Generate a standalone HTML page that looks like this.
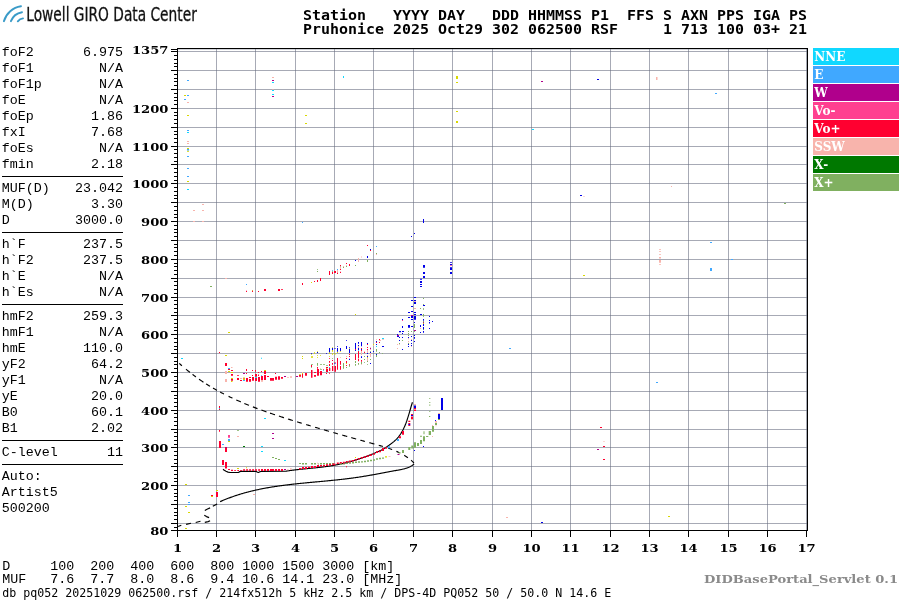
<!DOCTYPE html>
<html><head><meta charset="utf-8"><title>Ionogram</title>
<style>html,body{margin:0;padding:0;background:#fff;width:900px;height:600px;overflow:hidden}svg{display:block}</style>
</head><body>
<svg width="900" height="600" viewBox="0 0 900 600">
<rect width="900" height="600" fill="#fff"/>
<g stroke="#676d80" stroke-opacity="0.58" stroke-width="1" shape-rendering="crispEdges"><line x1="216.5" y1="49" x2="216.5" y2="530" /><line x1="255.5" y1="49" x2="255.5" y2="530" /><line x1="295.5" y1="49" x2="295.5" y2="530" /><line x1="334.5" y1="49" x2="334.5" y2="530" /><line x1="373.5" y1="49" x2="373.5" y2="530" /><line x1="413.5" y1="49" x2="413.5" y2="530" /><line x1="452.5" y1="49" x2="452.5" y2="530" /><line x1="492.5" y1="49" x2="492.5" y2="530" /><line x1="531.5" y1="49" x2="531.5" y2="530" /><line x1="570.5" y1="49" x2="570.5" y2="530" /><line x1="610.5" y1="49" x2="610.5" y2="530" /><line x1="649.5" y1="49" x2="649.5" y2="530" /><line x1="688.5" y1="49" x2="688.5" y2="530" /><line x1="728.5" y1="49" x2="728.5" y2="530" /><line x1="767.5" y1="49" x2="767.5" y2="530" /><line x1="806.5" y1="49" x2="806.5" y2="530" /><line x1="178" y1="523.5" x2="807" y2="523.5" /><line x1="178" y1="504.5" x2="807" y2="504.5" /><line x1="178" y1="485.5" x2="807" y2="485.5" /><line x1="178" y1="466.5" x2="807" y2="466.5" /><line x1="178" y1="447.5" x2="807" y2="447.5" /><line x1="178" y1="429.5" x2="807" y2="429.5" /><line x1="178" y1="410.5" x2="807" y2="410.5" /><line x1="178" y1="391.5" x2="807" y2="391.5" /><line x1="178" y1="372.5" x2="807" y2="372.5" /><line x1="178" y1="353.5" x2="807" y2="353.5" /><line x1="178" y1="334.5" x2="807" y2="334.5" /><line x1="178" y1="315.5" x2="807" y2="315.5" /><line x1="178" y1="297.5" x2="807" y2="297.5" /><line x1="178" y1="278.5" x2="807" y2="278.5" /><line x1="178" y1="259.5" x2="807" y2="259.5" /><line x1="178" y1="240.5" x2="807" y2="240.5" /><line x1="178" y1="221.5" x2="807" y2="221.5" /><line x1="178" y1="202.5" x2="807" y2="202.5" /><line x1="178" y1="183.5" x2="807" y2="183.5" /><line x1="178" y1="164.5" x2="807" y2="164.5" /><line x1="178" y1="146.5" x2="807" y2="146.5" /><line x1="178" y1="127.5" x2="807" y2="127.5" /><line x1="178" y1="108.5" x2="807" y2="108.5" /><line x1="178" y1="89.5" x2="807" y2="89.5" /><line x1="178" y1="70.5" x2="807" y2="70.5" /><line x1="178" y1="51.5" x2="807" y2="51.5" /><line x1="178" y1="49.5" x2="807" y2="49.5" stroke-opacity="0.3"/></g>
<path d="M179.23,363.39 L179.75,363.84 L180.26,364.30 L180.77,364.75 L181.29,365.20 L181.81,365.65 L181.94,365.77" fill="none" stroke="#000" stroke-width="1.15"/>
<path d="M186.00,369.21 L186.53,369.65 L187.06,370.08 L187.60,370.52 L188.13,370.95 L188.67,371.38 L189.20,371.81 L189.74,372.24 L189.94,372.40" fill="none" stroke="#000" stroke-width="1.15"/>
<path d="M192.52,374.41 L193.07,374.82 L193.62,375.24 L194.17,375.65 L194.72,376.07 L195.27,376.48 L195.83,376.88 L195.97,376.99" fill="none" stroke="#000" stroke-width="1.15"/>
<path d="M199.04,379.19 L199.61,379.58 L200.17,379.98 L200.74,380.37 L201.31,380.75 L201.88,381.14 L202.45,381.52 L203.02,381.90 L203.45,382.19" fill="none" stroke="#000" stroke-width="1.15"/>
<path d="M206.05,383.87 L206.63,384.23 L207.21,384.60 L207.79,384.96 L208.37,385.32 L208.96,385.68 L209.55,386.04 L209.99,386.31" fill="none" stroke="#000" stroke-width="1.15"/>
<path d="M213.02,388.10 L213.61,388.44 L214.21,388.78 L214.81,389.12 L215.40,389.46 L216.00,389.80 L216.60,390.13 L216.98,390.34" fill="none" stroke="#000" stroke-width="1.15"/>
<path d="M220.07,392.02 L220.68,392.34 L221.29,392.66 L221.90,392.98 L222.51,393.29 L223.12,393.61 L223.73,393.92 L223.96,394.04" fill="none" stroke="#000" stroke-width="1.15"/>
<path d="M228.57,396.33 L229.19,396.63 L229.81,396.93 L230.43,397.22 L231.05,397.52 L231.67,397.81 L232.29,398.10 L232.37,398.14" fill="none" stroke="#000" stroke-width="1.15"/>
<path d="M236.27,399.93 L236.90,400.21 L237.53,400.49 L238.15,400.77 L238.78,401.04 L239.41,401.32 L240.04,401.59 L240.67,401.86 L240.75,401.90" fill="none" stroke="#000" stroke-width="1.15"/>
<path d="M244.31,403.41 L244.94,403.67 L245.58,403.93 L246.21,404.20 L246.85,404.46 L247.49,404.72 L248.12,404.97 L248.76,405.23 L249.00,405.33" fill="none" stroke="#000" stroke-width="1.15"/>
<path d="M252.92,406.87 L253.56,407.12 L254.20,407.37 L254.84,407.61 L255.48,407.86 L256.13,408.10 L256.77,408.35 L257.41,408.59 L257.50,408.62" fill="none" stroke="#000" stroke-width="1.15"/>
<path d="M261.45,410.08 L262.10,410.32 L262.74,410.55 L263.39,410.78 L264.04,411.01 L264.69,411.25 L265.34,411.48 L265.98,411.71 L266.47,411.88" fill="none" stroke="#000" stroke-width="1.15"/>
<path d="M270.05,413.12 L270.70,413.35 L271.35,413.57 L272.00,413.79 L272.66,414.01 L273.31,414.23 L273.96,414.45 L274.62,414.67 L274.94,414.78" fill="none" stroke="#000" stroke-width="1.15"/>
<path d="M278.95,416.11 L279.60,416.32 L280.26,416.54 L280.92,416.75 L281.57,416.96 L282.23,417.17 L282.88,417.38 L283.54,417.59 L283.95,417.73" fill="none" stroke="#000" stroke-width="1.15"/>
<path d="M287.97,419.00 L288.63,419.21 L289.29,419.42 L289.95,419.62 L290.60,419.83 L291.26,420.03 L291.92,420.24 L292.58,420.44 L292.82,420.52" fill="none" stroke="#000" stroke-width="1.15"/>
<path d="M297.11,421.83 L297.76,422.04 L298.42,422.24 L299.08,422.44 L299.74,422.64 L300.40,422.84 L301.06,423.04 L301.72,423.24 L301.80,423.26" fill="none" stroke="#000" stroke-width="1.15"/>
<path d="M306.17,424.58 L306.82,424.78 L307.48,424.98 L308.14,425.17 L308.80,425.37 L309.46,425.57 L310.12,425.77 L310.70,425.94" fill="none" stroke="#000" stroke-width="1.15"/>
<path d="M315.06,427.23 L315.72,427.43 L316.38,427.62 L317.04,427.82 L317.70,428.01 L318.36,428.20 L319.02,428.40 L319.68,428.59 L319.68,428.59" fill="none" stroke="#000" stroke-width="1.15"/>
<path d="M323.97,429.84 L324.63,430.04 L325.29,430.23 L325.95,430.42 L326.60,430.61 L327.26,430.80 L327.92,430.99 L328.58,431.18 L329.00,431.30" fill="none" stroke="#000" stroke-width="1.15"/>
<path d="M333.36,432.56 L334.02,432.75 L334.68,432.94 L335.34,433.13 L336.00,433.32 L336.66,433.50 L337.32,433.69 L337.90,433.86" fill="none" stroke="#000" stroke-width="1.15"/>
<path d="M342.27,435.10 L342.93,435.29 L343.59,435.47 L344.25,435.66 L344.91,435.85 L345.57,436.03 L346.23,436.22 L346.89,436.41 L347.22,436.50" fill="none" stroke="#000" stroke-width="1.15"/>
<path d="M351.27,437.64 L351.93,437.82 L352.59,438.01 L353.25,438.19 L353.91,438.38 L354.58,438.56 L355.24,438.75 L355.90,438.93 L356.15,439.00" fill="none" stroke="#000" stroke-width="1.15"/>
<path d="M360.38,440.18 L361.04,440.36 L361.71,440.55 L362.37,440.73 L363.04,440.91 L363.70,441.10 L364.37,441.28 L364.95,441.44" fill="none" stroke="#000" stroke-width="1.15"/>
<path d="M369.37,442.66 L370.04,442.84 L370.71,443.03 L371.38,443.21 L372.05,443.39 L372.72,443.58 L373.39,443.76 L374.06,443.94 L374.47,444.06" fill="none" stroke="#000" stroke-width="1.15"/>
<path d="M378.74,445.25 L379.41,445.44 L380.08,445.63 L380.75,445.83 L381.41,446.02 L382.08,446.22 L382.74,446.42 L382.83,446.44" fill="none" stroke="#000" stroke-width="1.15"/>
<path d="M388.02,448.10 L388.67,448.32 L389.32,448.55 L389.97,448.78 L390.61,449.01 L391.26,449.25 L391.90,449.49 L392.14,449.58" fill="none" stroke="#000" stroke-width="1.15"/>
<path d="M396.40,451.33 L397.03,451.61 L397.64,451.89 L398.26,452.17 L398.87,452.47 L399.48,452.76 L399.63,452.84" fill="none" stroke="#000" stroke-width="1.15"/>
<path d="M404.23,455.36 L404.80,455.71 L405.37,456.07 L405.94,456.43 L406.51,456.81 L407.07,457.19 L407.62,457.57 L407.90,457.77" fill="none" stroke="#000" stroke-width="1.15"/>
<path d="M411.05,460.22 L411.57,460.67 L412.08,461.12 L412.59,461.58 L413.09,462.05 L413.59,462.53 L413.96,462.90" fill="none" stroke="#000" stroke-width="1.15"/>
<path d="M414.08,463.84 L413.62,464.27 L413.15,464.68 L412.66,465.06 L412.16,465.43 L411.65,465.77 L411.12,466.10 L410.58,466.41 L410.03,466.70 L409.47,466.97 L408.90,467.23 L408.32,467.47 L407.73,467.70 L407.13,467.92 L406.53,468.13 L405.91,468.32 L405.30,468.50 L404.67,468.68 L404.04,468.85 L403.41,469.00 L402.77,469.16 L402.13,469.30 L401.48,469.44 L400.83,469.58 L400.18,469.71 L399.52,469.83 L398.87,469.96 L398.21,470.08 L397.55,470.20 L396.89,470.32 L396.23,470.44 L395.57,470.56 L394.92,470.68 L394.26,470.81 L393.60,470.93 L392.94,471.05 L392.28,471.17 L391.63,471.30 L390.97,471.42 L390.31,471.54 L389.66,471.67 L389.00,471.79 L388.34,471.91 L387.69,472.03 L387.03,472.16 L386.38,472.28 L385.72,472.40 L385.06,472.53 L384.41,472.65 L383.75,472.77 L383.10,472.90 L382.44,473.02 L381.79,473.14 L381.13,473.27 L380.47,473.39 L379.82,473.51 L379.16,473.63 L378.51,473.75 L377.85,473.87 L377.20,473.99 L376.54,474.11 L375.89,474.23 L375.23,474.35 L374.58,474.47 L373.92,474.59 L373.27,474.71 L372.61,474.83 L371.95,474.94 L371.30,475.06 L370.64,475.18 L369.99,475.29 L369.33,475.40 L368.67,475.52 L368.02,475.63 L367.36,475.74 L366.71,475.86 L366.05,475.97 L365.39,476.08 L364.74,476.18 L364.08,476.29 L363.42,476.40 L362.76,476.51 L362.11,476.61 L361.45,476.72 L360.79,476.82 L360.13,476.92 L359.47,477.02 L358.82,477.13 L358.16,477.22 L357.50,477.32 L356.84,477.42 L356.18,477.52 L355.52,477.61 L354.86,477.70 L354.20,477.80 L353.54,477.89 L352.88,477.98 L352.22,478.07 L351.56,478.16 L350.89,478.24 L350.23,478.33 L349.57,478.42 L348.91,478.50 L348.25,478.58 L347.58,478.67 L346.92,478.75 L346.26,478.83 L345.60,478.91 L344.93,478.99 L344.27,479.07 L343.61,479.15 L342.94,479.22 L342.28,479.30 L341.61,479.37 L340.95,479.45 L340.29,479.52 L339.62,479.60 L338.96,479.67 L338.29,479.74 L337.63,479.81 L336.96,479.88 L336.30,479.95 L335.63,480.02 L334.97,480.09 L334.30,480.16 L333.63,480.23 L332.97,480.30 L332.30,480.36 L331.64,480.43 L330.97,480.50 L330.31,480.56 L329.64,480.63 L328.97,480.69 L328.31,480.76 L327.64,480.82 L326.97,480.88 L326.31,480.95 L325.64,481.01 L324.97,481.08 L324.31,481.14 L323.64,481.20 L322.97,481.26 L322.31,481.33 L321.64,481.39 L320.97,481.45 L320.31,481.51 L319.64,481.57 L318.97,481.64 L318.31,481.70 L317.64,481.76 L316.97,481.82 L316.31,481.88 L315.64,481.94 L314.97,482.01 L314.30,482.07 L313.64,482.13 L312.97,482.19 L312.30,482.25 L311.64,482.32 L310.97,482.38 L310.30,482.44 L309.64,482.50 L308.97,482.57 L308.31,482.63 L307.64,482.69 L306.97,482.76 L306.31,482.82 L305.64,482.89 L304.97,482.95 L304.31,483.02 L303.64,483.08 L302.98,483.15 L302.31,483.21 L301.64,483.28 L300.98,483.35 L300.31,483.41 L299.65,483.48 L298.98,483.55 L298.32,483.62 L297.65,483.69 L296.99,483.76 L296.32,483.83 L295.66,483.90 L295.00,483.97 L294.33,484.05 L293.67,484.12 L293.00,484.19 L292.34,484.27 L291.68,484.34 L291.01,484.42 L290.35,484.49 L289.69,484.57 L289.02,484.65 L288.36,484.73 L287.70,484.81 L287.04,484.89 L286.38,484.97 L285.71,485.05 L285.05,485.14 L284.39,485.22 L283.73,485.31 L283.07,485.39 L282.41,485.48 L281.75,485.57 L281.09,485.66 L280.43,485.75 L279.77,485.84 L279.11,485.93 L278.45,486.03 L277.79,486.12 L277.13,486.22 L276.47,486.31 L275.82,486.41 L275.16,486.51 L274.50,486.61 L273.84,486.71 L273.19,486.82 L272.53,486.92 L271.87,487.03 L271.22,487.14 L270.56,487.24 L269.91,487.35 L269.25,487.46 L268.60,487.58 L267.94,487.69 L267.29,487.81 L266.63,487.92 L265.98,488.04 L265.33,488.16 L264.67,488.28 L264.02,488.40 L263.37,488.53 L262.72,488.65 L262.07,488.78 L261.42,488.91 L260.77,489.04 L260.12,489.17 L259.47,489.31 L258.82,489.44 L258.17,489.58 L257.52,489.72 L256.87,489.86 L256.22,490.00 L255.58,490.15 L254.93,490.29 L254.28,490.44 L253.64,490.59 L252.99,490.74 L252.34,490.90 L251.70,491.05 L251.06,491.21 L250.41,491.37 L249.77,491.53 L249.13,491.69 L248.48,491.86 L247.84,492.03 L247.20,492.20 L246.56,492.37 L245.92,492.54 L245.28,492.72 L244.64,492.89 L244.00,493.07 L243.36,493.25 L242.72,493.44 L242.08,493.63 L241.45,493.81 L240.81,494.00 L240.17,494.20 L239.54,494.39 L238.90,494.59 L238.27,494.79 L237.63,494.99 L237.00,495.20 L236.37,495.40 L235.74,495.61 L235.10,495.82 L234.47,496.04 L233.84,496.25 L233.21,496.47 L232.58,496.69 L231.95,496.92 L231.32,497.14 L230.70,497.37 L230.07,497.60 L229.44,497.84 L228.82,498.07 L228.19,498.31 L227.57,498.55 L226.94,498.80 L226.32,499.05 L225.70,499.30 L225.07,499.55 L224.45,499.80 L223.83,500.06 L223.21,500.32 L222.59,500.59 L221.97,500.85 L221.35,501.12 L220.73,501.39 L220.12,501.67" fill="none" stroke="#000" stroke-width="1.15"/>
<path d="M178.10,526.50 L181.30,525.20" fill="none" stroke="#000" stroke-width="1.15" stroke-linecap="butt" stroke-linejoin="round"/>
<path d="M186.10,524.40 L191.00,523.20" fill="none" stroke="#000" stroke-width="1.15" stroke-linecap="butt" stroke-linejoin="round"/>
<path d="M195.70,522.50 L200.50,521.20" fill="none" stroke="#000" stroke-width="1.15" stroke-linecap="butt" stroke-linejoin="round"/>
<path d="M204.80,522.40 L208.20,521.60 L210.10,520.80" fill="none" stroke="#000" stroke-width="1.15" stroke-linecap="butt" stroke-linejoin="round"/>
<path d="M209.10,517.60 L206.50,516.60 L204.30,515.20" fill="none" stroke="#000" stroke-width="1.15" stroke-linecap="butt" stroke-linejoin="round"/>
<path d="M204.80,510.60 L207.50,509.00 L210.10,507.90" fill="none" stroke="#000" stroke-width="1.15" stroke-linecap="butt" stroke-linejoin="round"/>
<path d="M212.80,506.30 L217.10,503.90" fill="none" stroke="#000" stroke-width="1.15" stroke-linecap="butt" stroke-linejoin="round"/>
<path d="M223.00,469.20 L224.30,470.30 L226.00,471.30 L228.00,472.10 L230.00,472.50 L238.30,472.50 L239.30,471.90 L240.50,471.40 L256.30,471.40 L257.50,472.20 L258.50,472.50 L259.80,471.80 L261.50,471.40 L286.00,471.30 L286.54,471.08 L287.06,471.00 L287.58,470.92 L288.10,470.84 L288.63,470.77 L289.15,470.69 L289.67,470.62 L290.20,470.54 L290.72,470.47 L291.24,470.40 L291.77,470.33 L292.29,470.26 L292.82,470.19 L293.34,470.13 L293.86,470.06 L294.39,470.00 L294.91,469.94 L295.44,469.87 L295.96,469.81 L296.48,469.75 L297.01,469.69 L297.53,469.63 L298.06,469.57 L298.58,469.52 L299.11,469.46 L299.63,469.40 L300.16,469.35 L300.68,469.29 L301.20,469.24 L301.73,469.18 L302.25,469.13 L302.78,469.07 L303.30,469.02 L303.83,468.97 L304.35,468.91 L304.88,468.86 L305.40,468.81 L305.93,468.76 L306.45,468.71 L306.98,468.66 L307.50,468.60 L308.03,468.55 L308.55,468.50 L309.07,468.45 L309.60,468.40 L310.12,468.35 L310.65,468.30 L311.17,468.24 L311.70,468.19 L312.22,468.14 L312.75,468.09 L313.27,468.04 L313.79,467.98 L314.32,467.93 L314.84,467.88 L315.37,467.82 L315.89,467.77 L316.41,467.71 L316.94,467.66 L317.46,467.60 L317.98,467.54 L318.51,467.49 L319.03,467.43 L319.55,467.37 L320.08,467.31 L320.60,467.25 L321.12,467.19 L321.65,467.13 L322.17,467.06 L322.69,467.00 L323.21,466.94 L323.73,466.87 L324.26,466.80 L324.78,466.74 L325.30,466.67 L325.82,466.60 L326.34,466.53 L326.87,466.46 L327.39,466.38 L327.91,466.31 L328.43,466.23 L328.95,466.15 L329.47,466.08 L329.99,466.00 L330.51,465.91 L331.03,465.83 L331.55,465.75 L332.07,465.66 L332.59,465.57 L333.11,465.48 L333.63,465.39 L334.15,465.30 L334.67,465.21 L335.18,465.11 L335.70,465.01 L336.22,464.91 L336.74,464.81 L337.26,464.71 L337.77,464.61 L338.29,464.50 L338.81,464.39 L339.32,464.28 L339.84,464.17 L340.36,464.06 L340.87,463.95 L341.39,463.83 L341.90,463.72 L342.42,463.60 L342.93,463.48 L343.45,463.35 L343.96,463.23 L344.48,463.11 L344.99,462.98 L345.50,462.85 L346.01,462.72 L346.53,462.59 L347.04,462.46 L347.55,462.33 L348.06,462.19 L348.57,462.05 L349.08,461.92 L349.59,461.78 L350.10,461.63 L350.61,461.49 L351.12,461.35 L351.63,461.20 L352.14,461.06 L352.65,460.91 L353.16,460.76 L353.66,460.61 L354.17,460.46 L354.68,460.30 L355.18,460.15 L355.69,459.99 L356.19,459.83 L356.70,459.67 L357.20,459.51 L357.70,459.35 L358.21,459.19 L358.71,459.03 L359.21,458.86 L359.71,458.70 L360.21,458.53 L360.71,458.36 L361.21,458.19 L361.71,458.02 L362.21,457.85 L362.71,457.67 L363.21,457.50 L363.71,457.32 L364.20,457.14 L364.70,456.97 L365.19,456.79 L365.69,456.61 L366.18,456.42 L366.68,456.24 L367.17,456.06 L367.66,455.87 L368.16,455.69 L368.65,455.50 L369.14,455.31 L369.63,455.12 L370.12,454.93 L370.61,454.74 L371.10,454.55 L371.58,454.36 L372.07,454.16 L372.56,453.97 L373.04,453.77 L373.53,453.57 L374.01,453.37 L374.50,453.18 L374.98,452.97 L375.46,452.77 L375.94,452.57 L376.42,452.36 L376.90,452.15 L377.38,451.94 L377.85,451.73 L378.33,451.51 L378.80,451.30 L379.28,451.07 L379.75,450.85 L380.22,450.62 L380.68,450.39 L381.15,450.15 L381.61,449.91 L382.07,449.67 L382.53,449.42 L382.99,449.17 L383.45,448.91 L383.90,448.65 L384.35,448.38 L384.80,448.10 L385.25,447.83 L385.69,447.54 L386.14,447.25 L386.58,446.96 L387.02,446.67 L387.46,446.37 L387.89,446.07 L388.33,445.77 L388.77,445.46 L389.20,445.15 L389.64,444.84 L390.07,444.53 L390.50,444.22 L390.93,443.90 L391.36,443.58 L391.78,443.25 L392.20,442.92 L392.62,442.59 L393.03,442.26 L393.44,441.92 L393.85,441.58 L394.25,441.23 L394.64,440.88 L395.03,440.52 L395.42,440.16 L395.80,439.80 L396.17,439.43 L396.53,439.06 L396.89,438.68 L397.25,438.30 L397.59,437.91 L397.93,437.52 L398.27,437.12 L398.59,436.72 L398.92,436.31 L399.23,435.90 L399.54,435.48 L399.84,435.06 L400.14,434.64 L400.43,434.21 L400.72,433.78 L401.00,433.34 L401.27,432.90 L401.54,432.46 L401.81,432.01 L402.07,431.56 L402.32,431.11 L402.57,430.65 L402.82,430.19 L403.06,429.73 L403.29,429.26 L403.53,428.79 L403.75,428.32 L403.98,427.84 L404.20,427.37 L404.41,426.89 L404.62,426.40 L404.83,425.92 L405.04,425.43 L405.24,424.94 L405.43,424.45 L405.63,423.96 L405.82,423.46 L406.01,422.97 L406.19,422.47 L406.38,421.97 L406.56,421.47 L406.73,420.96 L406.91,420.46 L407.08,419.95 L407.25,419.45 L407.42,418.94 L407.58,418.43 L407.75,417.92 L407.91,417.41 L408.07,416.90 L408.23,416.39 L408.38,415.88 L408.54,415.37 L408.69,414.86 L408.85,414.35 L409.00,413.83 L409.15,413.32 L409.30,412.81 L409.45,412.30 L409.60,411.79 L409.75,411.28 L409.89,410.77 L410.04,410.26 L410.19,409.75 L410.34,409.24 L410.48,408.73 L410.63,408.23 L410.78,407.72 L410.92,407.22 L411.07,406.71 L411.22,406.21 L411.37,405.71 L411.52,405.21 L411.67,404.72 L411.83,404.22 L411.98,403.73 L412.13,403.24 L412.29,402.75 L412.45,402.26" fill="none" stroke="#000" stroke-width="1.15" stroke-linejoin="round"/>
<path fill="#80b060" d="M272 457h2v1h-2zM275 458h2v1h-2zM278 459h2v1h-2zM299 463h2v1h-2zM302 463h2v1.5h-2zM305 463h2v1.5h-2zM311 463h2v1.5h-2zM314 463h2v1.5h-2zM318 463.6h1v1h-1zM320 463h2v1.4h-2zM323 463h2v1.4h-2zM326 463h2v1.4h-2zM329 463h2v1.4h-2zM332 463h2v1.4h-2zM340 463.3h2v1.4h-2zM343 463.2h2v1.4h-2zM346 462.6h2v1.4h-2zM349 462.3h2v1.4h-2zM352 462h2v1.4h-2zM355 461.6h2v1.4h-2zM358 461.3h2v1.4h-2zM361 461.2h2v1.4h-2zM364 460.8h2v1.4h-2zM367 460.3h2v1.4h-2zM370 459.8h2v1.4h-2zM373 459.3h2v1.4h-2zM376 458.3h2v1.4h-2zM379 457.8h2v1.4h-2zM382 457.4h2v1.4h-2zM398.6 452.2h2v1.4h-2zM402 450h2v3h-2zM408.3 447h2v3h-2zM411.3 445.5h2v3h-2zM414 442.3h2v5.4h-2zM417 443h2v3h-2zM420 440h2v4h-2zM420 435.7h2v1h-2zM423 436.3h2v5h-2zM423.5 431.3h1v3h-1zM426.3 436h2v1h-2zM428.7 431h2v4h-2zM429.3 398h1v1h-1zM429.3 402h1v1h-1zM429.3 404.5h1v1.2h-1zM429.3 411h1v1h-1zM429.3 416h1v1h-1zM438 419h2v1h-2zM429 416h1v1h-1zM435 423h2v2h-2zM432 426h2v5.7h-2zM429 431h2v3.7h-2zM426 436h2v0.8h-2zM311 364h2v0.7h-2zM311 367.3h1v0.7h-1zM317 363h1v2.7h-1zM320 364h2v0.7h-2zM320 369h2v0.7h-2zM323 364h2v0.7h-2zM326 365h2v0.7h-2zM326 365h1v0.7h-1zM332 358h1v0.7h-1zM337 368h1v0.7h-1zM343 363h1v5.7h-1zM346 367h1v1h-1zM349 365h1v1.7h-1zM355 361h1v2h-1zM355 364h1v1.7h-1zM358 363h1v1.7h-1zM361 362h1v2h-1zM364 356h1v1h-1zM364 359h1v1h-1zM364 362h1v0.7h-1zM367 361h1v1h-1zM367 364h1v0.7h-1zM370 351h1v0.7h-1zM370 359h1v1h-1zM376 349h1v2.7h-1zM376 353h1v0.7h-1zM376 355h1v2h-1zM379 352h1v1h-1zM382 353h1v0.7h-1zM423 298h1v1h-1zM423 304h1v1h-1zM420 308h1v1h-1zM423 308.3h1v1.5h-1zM423 314h1v2.7h-1zM423 321h1v1h-1zM414 324h1v4h-1zM423 329h1v1h-1zM414 331h1v1h-1zM408 331h1v1h-1zM411 331h1v1h-1zM408 333h1v1h-1zM408 335h1v1h-1zM402 340h1v1h-1zM399 343h1v1h-1zM408 343h1v1h-1zM317 269h1v0.7h-1zM317 271h1v1h-1zM332 271h1v0.7h-1zM340 266h1v0.7h-1zM343 267h1v1h-1zM346 266h1v1h-1zM355 265h1v1h-1zM367 260h1v2h-1zM376 253h1v1h-1zM210 286h2v1h-2zM784 203h2v1h-2zM237 430h2v0.7h-2z"/>
<path fill="#007800" d="M243 446h2v1h-2z"/>
<path fill="#f8b4ac" d="M287 469.3h1.7v1h-1.7zM290 468.3h1.7v1.4h-1.7zM317 462.8h1v1h-1zM388.5 456.2h2v0.8h-2zM414 404h2v1.5h-2zM414 409h2v0.7h-2zM411 419h2v1h-2zM438 413h2v1h-2zM435 421h2v1.7h-2zM435.5 425.3h1v1h-1zM432 425h1v1h-1zM432 436h1v1h-1zM225 371h2v3h-2zM225 379h2v3h-2zM231 367h1.5v1h-1.5zM240 378h2v1h-2zM261 380h2v1.7h-2zM287 377h2v0.7h-2zM290 376.3h2v1.4h-2zM302 372h1v1h-1zM320 368h1v0.7h-1zM340 357h1v0.7h-1zM346 356h1v1h-1zM358 346h1v2h-1zM358 358h1v1h-1zM361 351h1v4h-1zM361 364h1v0.7h-1zM364 351.3h1v0.7h-1zM367 350h1v3h-1zM367 355h1v1h-1zM367 358h1v3h-1zM370 347h1v0.7h-1zM370 349h1v1h-1zM370 353h1v4h-1zM373 345h1v0.7h-1zM376 339h1v0.7h-1zM379 340h1v1h-1zM382 339h2v0.7h-2zM414 301h2v1h-2zM414 308h2v1h-2zM420 328h1v1h-1zM408 338.3h1v1h-1zM380 340h1v1h-1zM408 341h1v1.3h-1zM411 339h1v1h-1zM399 344.3h1v0.7h-1zM397 344h1v1h-1zM411 346.3h1v0.7h-1zM397 348h1v1h-1zM337 270h1v2.7h-1zM340 266.7h1v2h-1zM343 266h1v1h-1zM346 265.3h1v0.7h-1zM358 258h1v4h-1zM361 256.5h1v1h-1zM376 254h1v1h-1zM193 210h2v1h-2zM202 204h2v1h-2zM202 210h2v1h-2zM193 221h2v1h-2zM202 221h2v1h-2zM225 278h2v1h-2zM187 102h2v1h-2zM187 141h2v1h-2zM187 143h2v1h-2zM272 77h2v1h-2zM272 89h2v0.5h-2zM656 77h1.5v3h-1.5zM671 186h1v1h-1zM583.5 196h1v1h-1zM659 249h2v0.8h-2zM659 251h2v0.8h-2zM659 254h2v0.8h-2zM659 257h2v1.5h-2zM659 260h2v2.7h-2zM659 264h2v0.8h-2zM237 436h2v0.9h-2zM253 494h2v1h-2zM603.5 441h1v1h-1zM506 517h2v1h-2z"/>
<path fill="#d8d800" d="M237 468h2v1h-2zM246 467.2h1v1h-1zM228 441h2v1h-2zM355 457h1v1h-1zM385 456.3h2v1.3h-2zM225 355h2v1h-2zM228 371h2v1h-2zM231 372h2v1h-2zM231 378h2v1h-2zM231 381h1.5v1h-1.5zM243 377.5h2v1h-2zM243 379h2v1h-2zM264 370h2v1h-2zM299 374.3h2v0.7h-2zM302 373h1v1h-1zM302 356h1v1h-1zM302 358h1v1h-1zM311 354h1v0.7h-1zM311 356.3h2v1.4h-2zM311 372h1v0.7h-1zM314 352.3h1v1.4h-1zM317 351h1v0.7h-1zM317 355h1v0.7h-1zM317 357h1v0.7h-1zM320 355h1v0.7h-1zM326 368h1v0.7h-1zM329 352.3h1v1.4h-1zM329 356h1v0.7h-1zM332 347h1v0.7h-1zM332 350h1v1.7h-1zM332 353.3h1v1.4h-1zM334.5 353h1v1.7h-1zM337 352h1v1h-1zM340 351h1v0.7h-1zM346 363h1v1h-1zM349 348h1v0.7h-1zM367 357h1v1h-1zM373 344h1v1h-1zM423 323h1v1h-1zM311 282h1v1h-1zM252 290h1v0.7h-1zM355 314h1v1h-1zM228 332h2v1h-2zM184 95h2v1h-2zM187 115h2v1h-2zM187 148h2v1h-2zM187 150.7h2v1h-2zM187 181h2v1h-2zM305 115h2v1h-2zM305 123h2v1h-2zM456 76h2v3h-2zM456 82h2v1h-2zM456 111h2v1h-2zM456 121h2v2h-2zM583 275h2v1h-2zM185 484h2v1h-2zM185 506h2v1h-2zM188 512h2v1h-2zM185 528h2v1h-2zM211 496h2v1h-2zM216 490h2v1h-2zM668 516h2v1h-2z"/>
<path fill="#10d8ff" d="M261 446h2v1h-2zM261 451h2v1h-2zM284 460h2v1h-2zM255 377h2v1h-2zM261 357.7h1v1h-1zM323 370h1v0.7h-1zM329 367h1v1h-1zM358 350h1v0.7h-1zM376 346h1v1h-1zM382 338h2v1h-2zM187 132h2v1h-2zM187 189h2v1h-2zM272 82h2v1h-2zM272 90h2v1h-2zM272 94h2v1h-2zM343 76h1v2h-1zM532 129h2v1h-2zM219 408h1v1h-1zM264 418h2v1h-2zM181 358h2v1h-2z"/>
<path fill="#40a8ff" d="M222 444h2v1h-2zM228 440h2v1h-2zM388 446.3h2v2h-2zM397 439h2v2h-2zM228 368h2v1h-2zM243 380h2v1h-2zM261 375h1v0.7h-1zM332 270h1v0.7h-1zM337 269h1v1h-1zM376 246h1v1h-1zM246 284h1v1h-1zM302 222h1v1h-1zM187 80h2v1h-2zM187 95h2v1h-2zM184 99h2v1h-2zM187 130h2v1h-2zM187 149h2v1.5h-2zM187 156h2v1h-2zM187 168h2v1h-2zM187 176h2v1h-2zM715 93h2v1h-2zM710 242h2v1h-2zM731 259h2v1h-2zM710 268h2v3h-2zM228 439h2v1.5h-2zM188 495h2v1h-2zM188 502h2v1h-2zM188 504h2v1h-2zM509 348h2v1h-2zM656 382h2v1h-2z"/>
<path fill="#ff4090" d="M323 369h1v1h-1zM402 320h1v1h-1zM450 265.3h2v0.7h-2zM228 435h2v2.8h-2z"/>
<path fill="#b0008c" d="M225 447h2v1h-2zM284 469h2v1h-2zM397.5 454h2v1h-2zM243 373h2v1h-2zM284 376h2v1h-2zM296 376h2v1h-2zM370 348h1v1h-1zM411 315h2v1h-2zM423 322h1v1h-1zM414 330h2v1h-2zM397 335h2v1h-2zM272 80h2v1h-2zM272 96h2v1h-2zM541 81h2v1h-2zM272 433h2v0.9h-2zM272 438h2v0.9h-2zM597 449h2v1h-2z"/>
<path fill="#ff0030" d="M219 441h2v7h-2zM225 447.8h2v4.2h-2zM222 460h2v5h-2zM225 462h2v6.5h-2zM228 469h2v1h-2zM231 469.7h2v1.3h-2zM234.3 470h1.5v1h-1.5zM237.3 470h1.7v1h-1.7zM240.3 470h1.5v1h-1.5zM243.3 469h1.5v2h-1.5zM246.3 469h1.5v2h-1.5zM249.3 469h1.5v2h-1.5zM252.3 469h1.5v2h-1.5zM255.3 469h1.5v2h-1.5zM258.3 469h1.5v2h-1.5zM261 469h2v2h-2zM264 469h2v2h-2zM267 469h2v2h-2zM270 469h4v2h-4zM275 469h2v2h-2zM278 469h2v2h-2zM281 469h2v2h-2zM299 468h2v1.5h-2zM302 467h2v2h-2zM305 467h2v2h-2zM308 466.7h2v1.3h-2zM311 466h2v2h-2zM314 466h2v2h-2zM317 465h2v2h-2zM320 465h2v1.6h-2zM323 465h2v1.6h-2zM326 464.3h2v1.6h-2zM329 464h2v1.6h-2zM332.3 463.6h3v1.6h-3zM336.8 462.5h2v1.6h-2zM339.8 462h2v1.6h-2zM342.8 461.8h2v1.6h-2zM345.8 461h2v1.6h-2zM348.8 460.6h2v1.6h-2zM351.8 460h2v1.6h-2zM354.8 459h2v1.6h-2zM357.8 458h2v1.6h-2zM360.8 457h2v1.6h-2zM363.8 456.3h2v1.6h-2zM366.8 455.3h2v1.6h-2zM369.8 454.3h2v1.6h-2zM373 453.2h2v1.6h-2zM346 466.2h1v1h-1zM376 451.3h2v1.6h-2zM379 450.6h2v1.6h-2zM382 448h2v3h-2zM385 447.3h2v1.5h-2zM399 436.3h2v2h-2zM402 431h2v3.7h-2zM408.3 420.8h2v1.2h-2zM408.3 423h2v1h-2zM408.3 425h2v1h-2zM414 408h2v1h-2zM414 409.7h2v1.3h-2zM411 414h2v1h-2zM411 416.5h2v2.5h-2zM225 363h2v3h-2zM228 369h2v1h-2zM231 370h2v1h-2zM231 374h2v1.7h-2zM231 379h2v1.7h-2zM237 375h2v0.8h-2zM237 378h2v2h-2zM240 380h2v1h-2zM243 378.5h2v0.6h-2zM246 369h1v2h-1zM246 373h1v1h-1zM246 378h2v3.7h-2zM249 377h2v1h-2zM249 379h2v2.7h-2zM252 370h1v1h-1zM252 375h1v1h-1zM252 377h2v3.7h-2zM255 370h1v1.7h-1zM255 374h2v2.7h-2zM255 378h2v3h-2zM258 372h1v1h-1zM258 374.5h1v1.5h-1zM258 377h2v4.7h-2zM261 371h1v1h-1zM261 376h2v4h-2zM264 371h2v3h-2zM264 375h2v5h-2zM267 376h2v1h-2zM270 378h4v2.7h-4zM275 376.7h2v3h-2zM278 376.3h2v3.4h-2zM281 377h2v1.7h-2zM275 373h1v1h-1zM299 375h2v1.7h-2zM302 374h1v3.7h-1zM305 373h2v2.7h-2zM311 365h1v2h-1zM311 370h1.5v7.7h-1.5zM314 372h2v1h-2zM314 375h2v1.7h-2zM317 367h1v1.7h-1zM317 369h2v6.7h-2zM320 371h2v4.3h-2zM326 367h2v1h-2zM326 368.7h2v3.3h-2zM326 373h1v1h-1zM326 367h1v1h-1zM326 369h1.3v3h-1.3zM326 373h1v0.7h-1zM329 358h1v0.7h-1zM329 361h1v1.7h-1zM329 364h1v2h-1zM329 368h1.3v3h-1.3zM329 372.7h1v1h-1zM332 360h1v1h-1zM332 363h1v1.7h-1zM332 366h1.3v5h-1.3zM334.5 362h1v1h-1zM334.5 366h1.5v5.7h-1.5zM337 358h1v11.7h-1zM340 361h1v3.7h-1zM340 366h1v3.7h-1zM346 358h1v1h-1zM346 361h1v2h-1zM346 365h1v1h-1zM349 354h1v1h-1zM349 356h1v1h-1zM349 364h1v0.7h-1zM355 349h1v1h-1zM355 354h1v6h-1zM358 351h1v7h-1zM358 359h1v2.3h-1zM361 348h1v1h-1zM361 350h1v1h-1zM361 360h1v1.7h-1zM364 352h1v1h-1zM367 344h1v1h-1zM367 347h1v1h-1zM367 349h1v1h-1zM376 342h1v1h-1zM379 339h1v1h-1zM379 342h1v1h-1zM302 283h1v2h-1zM314 281h1v1h-1zM317 280h1v2h-1zM320 278h1v3h-1zM329 271h1v4h-1zM332 272h1v2h-1zM334 271h2v2h-2zM337 272.7h1v1.3h-1zM340 265h1v1h-1zM340 269h1v1h-1zM340 271.7h1v1.3h-1zM346 263h1v1h-1zM349 264h1v2h-1zM367 245h1v1h-1zM370 250h1v1h-1zM246 290.7h1v1.3h-1zM252 290.7h1v1.3h-1zM258 291h1v1h-1zM264 289h2v2h-2zM278 289h2v2h-2zM281 289h2v0.7h-2zM219 406h1v2h-1zM219 409h1v1h-1zM219 430h1v1.7h-1zM211 495h2v1h-2zM216 492h2v5h-2zM219 352h1v1h-1zM600 427h2v1h-2zM603 446h2v1h-2zM603 459h2v1h-2z"/>
<path fill="#0000e8" d="M408.3 424h2v1h-2zM414 450h1v1h-1zM423 446h1v1h-1zM414 405.5h2v2.5h-2zM411 415h2v1h-2zM441 398h2v12h-2zM438 414h2v5h-2zM435 420h1v1h-1zM311 353h1v0.7h-1zM317 352h1v1h-1zM326 353h1v0.7h-1zM326 353h1v0.7h-1zM329 348h1v4.3h-1zM332 348h1v2h-1zM334.5 348h1v1h-1zM334.5 363h1v1h-1zM337 346h1v0.7h-1zM337 348h1v3.7h-1zM340 348h1v3h-1zM346 340h1v0.7h-1zM346 346h1v3h-1zM349 347h1v0.7h-1zM349 349h1v4h-1zM349 358.7h1v1.3h-1zM355 343h1v6h-1zM355 350h1v1h-1zM358 342h1v1.7h-1zM358 345h1v1h-1zM358 348h1v2h-1zM361 342h1v4.3h-1zM361 349h1v1h-1zM361 356.3h1v1.7h-1zM367 343h1v1h-1zM367 353h1v1h-1zM367 356h1v1h-1zM370 352h1v1h-1zM370 363h1v1h-1zM373 351h1v1h-1zM376 341h1v1h-1zM376 344h1v1h-1zM376 354h1v1h-1zM382 346h2v1h-2zM414 297h2v1h-2zM411 300h2v1h-2zM414 300h2v1h-2zM414 302h2v2h-2zM411 306h2v1h-2zM423 305h2v1h-2zM411 311h2v1h-2zM408 312h2v1h-2zM414 312h2v1h-2zM414 314h2v1h-2zM420 314h2v1h-2zM411 316h2v2h-2zM408 317h2v1h-2zM414 316h2v3.7h-2zM429 316h1v1h-1zM402 319h1v1h-1zM411 319h2v1h-2zM423 319h1v1.7h-1zM429 320h1v1h-1zM432 321h1v1h-1zM414 322h1v1h-1zM429 322h1v1.5h-1zM408 325h2v2.7h-2zM411 326h2v1h-2zM420 325h1v2h-1zM402 326h1v2h-1zM423 324h1v2h-1zM423 327h1v2.3h-1zM429 328h1v1h-1zM399 331h2v1.3h-2zM402 331h2v1h-2zM420 332h1v1h-1zM423 331h1v1.7h-1zM402 333h1v1h-1zM397 334h1v1h-1zM397 336h2v1h-2zM414 335h1v1h-1zM399 337h1v1h-1zM402 337h1v1h-1zM408 337h1v1h-1zM411 336h1v1h-1zM414 337h1v1.7h-1zM399 340h1v1h-1zM411 340h1v1h-1zM414 341h1v1h-1zM408 344h1v1h-1zM411 343h1v1h-1zM411 345h1v1h-1zM408 346h1v1h-1zM402 349h1v1h-1zM423 265h2v2.7h-2zM423 272h2v2h-2zM423 276h2v2h-2zM420 278.7h2v1h-2zM420 281h2v2h-2zM420 284h2v1h-2zM420 286h2v1h-2zM450 262h2v0.7h-2zM450 264h2v1h-2zM450 267.3h2v2.7h-2zM450 272h2v2h-2zM423 219h1v4h-1zM414 233h1v1h-1zM411 236h1v1h-1zM355 260h1v1h-1zM367 256h1v2h-1zM370 249h1v1h-1zM597 79h2v1h-2zM580 195h2v1h-2zM541 522h2v1h-2z"/>
<g stroke="#000" stroke-width="1" shape-rendering="crispEdges"><line x1="177" y1="48.5" x2="808" y2="48.5"/><line x1="177" y1="530.5" x2="808" y2="530.5"/><line x1="177.5" y1="48" x2="177.5" y2="537"/><line x1="807.5" y1="48" x2="807.5" y2="531"/><line x1="174" y1="527.5" x2="177" y2="527.5"/><line x1="171" y1="523.5" x2="177" y2="523.5"/><line x1="174" y1="519.5" x2="177" y2="519.5"/><line x1="174" y1="515.5" x2="177" y2="515.5"/><line x1="174" y1="512.5" x2="177" y2="512.5"/><line x1="174" y1="508.5" x2="177" y2="508.5"/><line x1="171" y1="504.5" x2="177" y2="504.5"/><line x1="174" y1="500.5" x2="177" y2="500.5"/><line x1="174" y1="496.5" x2="177" y2="496.5"/><line x1="174" y1="493.5" x2="177" y2="493.5"/><line x1="174" y1="489.5" x2="177" y2="489.5"/><line x1="171" y1="485.5" x2="177" y2="485.5"/><line x1="174" y1="481.5" x2="177" y2="481.5"/><line x1="174" y1="478.5" x2="177" y2="478.5"/><line x1="174" y1="474.5" x2="177" y2="474.5"/><line x1="174" y1="470.5" x2="177" y2="470.5"/><line x1="171" y1="466.5" x2="177" y2="466.5"/><line x1="174" y1="463.5" x2="177" y2="463.5"/><line x1="174" y1="459.5" x2="177" y2="459.5"/><line x1="174" y1="455.5" x2="177" y2="455.5"/><line x1="174" y1="451.5" x2="177" y2="451.5"/><line x1="171" y1="447.5" x2="177" y2="447.5"/><line x1="174" y1="444.5" x2="177" y2="444.5"/><line x1="174" y1="440.5" x2="177" y2="440.5"/><line x1="174" y1="436.5" x2="177" y2="436.5"/><line x1="174" y1="432.5" x2="177" y2="432.5"/><line x1="171" y1="429.5" x2="177" y2="429.5"/><line x1="174" y1="425.5" x2="177" y2="425.5"/><line x1="174" y1="421.5" x2="177" y2="421.5"/><line x1="174" y1="417.5" x2="177" y2="417.5"/><line x1="174" y1="413.5" x2="177" y2="413.5"/><line x1="171" y1="410.5" x2="177" y2="410.5"/><line x1="174" y1="406.5" x2="177" y2="406.5"/><line x1="174" y1="402.5" x2="177" y2="402.5"/><line x1="174" y1="398.5" x2="177" y2="398.5"/><line x1="174" y1="395.5" x2="177" y2="395.5"/><line x1="171" y1="391.5" x2="177" y2="391.5"/><line x1="174" y1="387.5" x2="177" y2="387.5"/><line x1="174" y1="383.5" x2="177" y2="383.5"/><line x1="174" y1="380.5" x2="177" y2="380.5"/><line x1="174" y1="376.5" x2="177" y2="376.5"/><line x1="171" y1="372.5" x2="177" y2="372.5"/><line x1="174" y1="368.5" x2="177" y2="368.5"/><line x1="174" y1="364.5" x2="177" y2="364.5"/><line x1="174" y1="361.5" x2="177" y2="361.5"/><line x1="174" y1="357.5" x2="177" y2="357.5"/><line x1="171" y1="353.5" x2="177" y2="353.5"/><line x1="174" y1="349.5" x2="177" y2="349.5"/><line x1="174" y1="346.5" x2="177" y2="346.5"/><line x1="174" y1="342.5" x2="177" y2="342.5"/><line x1="174" y1="338.5" x2="177" y2="338.5"/><line x1="171" y1="334.5" x2="177" y2="334.5"/><line x1="174" y1="330.5" x2="177" y2="330.5"/><line x1="174" y1="327.5" x2="177" y2="327.5"/><line x1="174" y1="323.5" x2="177" y2="323.5"/><line x1="174" y1="319.5" x2="177" y2="319.5"/><line x1="171" y1="315.5" x2="177" y2="315.5"/><line x1="174" y1="312.5" x2="177" y2="312.5"/><line x1="174" y1="308.5" x2="177" y2="308.5"/><line x1="174" y1="304.5" x2="177" y2="304.5"/><line x1="174" y1="300.5" x2="177" y2="300.5"/><line x1="171" y1="297.5" x2="177" y2="297.5"/><line x1="174" y1="293.5" x2="177" y2="293.5"/><line x1="174" y1="289.5" x2="177" y2="289.5"/><line x1="174" y1="285.5" x2="177" y2="285.5"/><line x1="174" y1="281.5" x2="177" y2="281.5"/><line x1="171" y1="278.5" x2="177" y2="278.5"/><line x1="174" y1="274.5" x2="177" y2="274.5"/><line x1="174" y1="270.5" x2="177" y2="270.5"/><line x1="174" y1="266.5" x2="177" y2="266.5"/><line x1="174" y1="263.5" x2="177" y2="263.5"/><line x1="171" y1="259.5" x2="177" y2="259.5"/><line x1="174" y1="255.5" x2="177" y2="255.5"/><line x1="174" y1="251.5" x2="177" y2="251.5"/><line x1="174" y1="247.5" x2="177" y2="247.5"/><line x1="174" y1="244.5" x2="177" y2="244.5"/><line x1="171" y1="240.5" x2="177" y2="240.5"/><line x1="174" y1="236.5" x2="177" y2="236.5"/><line x1="174" y1="232.5" x2="177" y2="232.5"/><line x1="174" y1="229.5" x2="177" y2="229.5"/><line x1="174" y1="225.5" x2="177" y2="225.5"/><line x1="171" y1="221.5" x2="177" y2="221.5"/><line x1="174" y1="217.5" x2="177" y2="217.5"/><line x1="174" y1="214.5" x2="177" y2="214.5"/><line x1="174" y1="210.5" x2="177" y2="210.5"/><line x1="174" y1="206.5" x2="177" y2="206.5"/><line x1="171" y1="202.5" x2="177" y2="202.5"/><line x1="174" y1="198.5" x2="177" y2="198.5"/><line x1="174" y1="195.5" x2="177" y2="195.5"/><line x1="174" y1="191.5" x2="177" y2="191.5"/><line x1="174" y1="187.5" x2="177" y2="187.5"/><line x1="171" y1="183.5" x2="177" y2="183.5"/><line x1="174" y1="180.5" x2="177" y2="180.5"/><line x1="174" y1="176.5" x2="177" y2="176.5"/><line x1="174" y1="172.5" x2="177" y2="172.5"/><line x1="174" y1="168.5" x2="177" y2="168.5"/><line x1="171" y1="164.5" x2="177" y2="164.5"/><line x1="174" y1="161.5" x2="177" y2="161.5"/><line x1="174" y1="157.5" x2="177" y2="157.5"/><line x1="174" y1="153.5" x2="177" y2="153.5"/><line x1="174" y1="149.5" x2="177" y2="149.5"/><line x1="171" y1="146.5" x2="177" y2="146.5"/><line x1="174" y1="142.5" x2="177" y2="142.5"/><line x1="174" y1="138.5" x2="177" y2="138.5"/><line x1="174" y1="134.5" x2="177" y2="134.5"/><line x1="174" y1="131.5" x2="177" y2="131.5"/><line x1="171" y1="127.5" x2="177" y2="127.5"/><line x1="174" y1="123.5" x2="177" y2="123.5"/><line x1="174" y1="119.5" x2="177" y2="119.5"/><line x1="174" y1="115.5" x2="177" y2="115.5"/><line x1="174" y1="112.5" x2="177" y2="112.5"/><line x1="171" y1="108.5" x2="177" y2="108.5"/><line x1="174" y1="104.5" x2="177" y2="104.5"/><line x1="174" y1="100.5" x2="177" y2="100.5"/><line x1="174" y1="97.5" x2="177" y2="97.5"/><line x1="174" y1="93.5" x2="177" y2="93.5"/><line x1="171" y1="89.5" x2="177" y2="89.5"/><line x1="174" y1="85.5" x2="177" y2="85.5"/><line x1="174" y1="81.5" x2="177" y2="81.5"/><line x1="174" y1="78.5" x2="177" y2="78.5"/><line x1="174" y1="74.5" x2="177" y2="74.5"/><line x1="171" y1="70.5" x2="177" y2="70.5"/><line x1="174" y1="66.5" x2="177" y2="66.5"/><line x1="174" y1="63.5" x2="177" y2="63.5"/><line x1="174" y1="59.5" x2="177" y2="59.5"/><line x1="174" y1="55.5" x2="177" y2="55.5"/><line x1="171" y1="51.5" x2="177" y2="51.5"/><line x1="171" y1="49.5" x2="177" y2="49.5"/><line x1="171" y1="530.5" x2="177" y2="530.5"/><line x1="216.5" y1="531" x2="216.5" y2="537"/><line x1="255.5" y1="531" x2="255.5" y2="537"/><line x1="295.5" y1="531" x2="295.5" y2="537"/><line x1="334.5" y1="531" x2="334.5" y2="537"/><line x1="373.5" y1="531" x2="373.5" y2="537"/><line x1="413.5" y1="531" x2="413.5" y2="537"/><line x1="452.5" y1="531" x2="452.5" y2="537"/><line x1="492.5" y1="531" x2="492.5" y2="537"/><line x1="531.5" y1="531" x2="531.5" y2="537"/><line x1="570.5" y1="531" x2="570.5" y2="537"/><line x1="610.5" y1="531" x2="610.5" y2="537"/><line x1="649.5" y1="531" x2="649.5" y2="537"/><line x1="688.5" y1="531" x2="688.5" y2="537"/><line x1="728.5" y1="531" x2="728.5" y2="537"/><line x1="767.5" y1="531" x2="767.5" y2="537"/><line x1="806.5" y1="531" x2="806.5" y2="537"/></g>
<g font-family="'DejaVu Serif','Liberation Serif',serif" font-weight="bold" font-size="11.7" fill="#000"><text transform="translate(168.4,54.0) scale(1.12,1)" text-anchor="end">1357</text><text transform="translate(168.4,113.0) scale(1.12,1)" text-anchor="end">1200</text><text transform="translate(168.4,151.0) scale(1.12,1)" text-anchor="end">1100</text><text transform="translate(168.4,188.0) scale(1.12,1)" text-anchor="end">1000</text><text transform="translate(168.4,226.0) scale(1.12,1)" text-anchor="end">900</text><text transform="translate(168.4,264.0) scale(1.12,1)" text-anchor="end">800</text><text transform="translate(168.4,302.0) scale(1.12,1)" text-anchor="end">700</text><text transform="translate(168.4,339.0) scale(1.12,1)" text-anchor="end">600</text><text transform="translate(168.4,377.0) scale(1.12,1)" text-anchor="end">500</text><text transform="translate(168.4,415.0) scale(1.12,1)" text-anchor="end">400</text><text transform="translate(168.4,452.0) scale(1.12,1)" text-anchor="end">300</text><text transform="translate(168.4,490.0) scale(1.12,1)" text-anchor="end">200</text><text transform="translate(168.4,535.0) scale(1.12,1)" text-anchor="end">80</text><text transform="translate(177.5,552) scale(1.12,1)" text-anchor="middle">1</text><text transform="translate(216.5,552) scale(1.12,1)" text-anchor="middle">2</text><text transform="translate(255.5,552) scale(1.12,1)" text-anchor="middle">3</text><text transform="translate(295.5,552) scale(1.12,1)" text-anchor="middle">4</text><text transform="translate(334.5,552) scale(1.12,1)" text-anchor="middle">5</text><text transform="translate(373.5,552) scale(1.12,1)" text-anchor="middle">6</text><text transform="translate(413.5,552) scale(1.12,1)" text-anchor="middle">7</text><text transform="translate(452.5,552) scale(1.12,1)" text-anchor="middle">8</text><text transform="translate(492.5,552) scale(1.12,1)" text-anchor="middle">9</text><text transform="translate(531.5,552) scale(1.12,1)" text-anchor="middle">10</text><text transform="translate(570.5,552) scale(1.12,1)" text-anchor="middle">11</text><text transform="translate(610.5,552) scale(1.12,1)" text-anchor="middle">12</text><text transform="translate(649.5,552) scale(1.12,1)" text-anchor="middle">13</text><text transform="translate(688.5,552) scale(1.12,1)" text-anchor="middle">14</text><text transform="translate(728.5,552) scale(1.12,1)" text-anchor="middle">15</text><text transform="translate(767.5,552) scale(1.12,1)" text-anchor="middle">16</text><text transform="translate(806.5,552) scale(1.12,1)" text-anchor="middle">17</text></g>
<g font-family="'DejaVu Serif','Liberation Serif',serif" font-weight="bold" font-size="12" fill="#fff"><rect x="813" y="48" width="86" height="17" fill="#10d8ff"/><text x="814.3" y="61">NNE</text><rect x="813" y="66" width="86" height="17" fill="#40a8ff"/><text x="814.3" y="79">E</text><rect x="813" y="84" width="86" height="17" fill="#b0008c"/><text x="814.3" y="97">W</text><rect x="813" y="102" width="86" height="17" fill="#ff4090"/><text x="814.3" y="115">Vo-</text><rect x="813" y="120" width="86" height="17" fill="#ff0030"/><text x="814.3" y="133">Vo+</text><rect x="813" y="138" width="86" height="17" fill="#f8b4ac"/><text x="814.3" y="151">SSW</text><rect x="813" y="156" width="86" height="17" fill="#007800"/><text x="814.3" y="169">X-</text><rect x="813" y="174" width="86" height="17" fill="#80b060"/><text x="814.3" y="187">X+</text></g>
<g font-family="'Liberation Mono','DejaVu Sans Mono',monospace" font-size="13.33" fill="#000"><text x="1.8" y="56">foF2</text><text x="123" y="56" text-anchor="end">6.975</text><text x="1.8" y="72">foF1</text><text x="123" y="72" text-anchor="end">N/A</text><text x="1.8" y="88">foF1p</text><text x="123" y="88" text-anchor="end">N/A</text><text x="1.8" y="104">foE</text><text x="123" y="104" text-anchor="end">N/A</text><text x="1.8" y="120">foEp</text><text x="123" y="120" text-anchor="end">1.86</text><text x="1.8" y="136">fxI</text><text x="123" y="136" text-anchor="end">7.68</text><text x="1.8" y="152">foEs</text><text x="123" y="152" text-anchor="end">N/A</text><text x="1.8" y="168">fmin</text><text x="123" y="168" text-anchor="end">2.18</text><text x="1.8" y="192">MUF(D)</text><text x="123" y="192" text-anchor="end">23.042</text><text x="1.8" y="208">M(D)</text><text x="123" y="208" text-anchor="end">3.30</text><text x="1.8" y="224">D</text><text x="123" y="224" text-anchor="end">3000.0</text><text x="1.8" y="248">h`F</text><text x="123" y="248" text-anchor="end">237.5</text><text x="1.8" y="264">h`F2</text><text x="123" y="264" text-anchor="end">237.5</text><text x="1.8" y="280">h`E</text><text x="123" y="280" text-anchor="end">N/A</text><text x="1.8" y="296">h`Es</text><text x="123" y="296" text-anchor="end">N/A</text><text x="1.8" y="320">hmF2</text><text x="123" y="320" text-anchor="end">259.3</text><text x="1.8" y="336">hmF1</text><text x="123" y="336" text-anchor="end">N/A</text><text x="1.8" y="352">hmE</text><text x="123" y="352" text-anchor="end">110.0</text><text x="1.8" y="368">yF2</text><text x="123" y="368" text-anchor="end">64.2</text><text x="1.8" y="384">yF1</text><text x="123" y="384" text-anchor="end">N/A</text><text x="1.8" y="400">yE</text><text x="123" y="400" text-anchor="end">20.0</text><text x="1.8" y="416">B0</text><text x="123" y="416" text-anchor="end">60.1</text><text x="1.8" y="432">B1</text><text x="123" y="432" text-anchor="end">2.02</text><text x="1.8" y="456">C-level</text><text x="123" y="456" text-anchor="end">11</text><text x="1.8" y="480">Auto:</text><text x="1.8" y="496">Artist5</text><text x="1.8" y="512">500200</text></g>
<g stroke="#000" stroke-width="1.15"><line x1="2" y1="176.5" x2="123" y2="176.5"/><line x1="2" y1="232.5" x2="123" y2="232.5"/><line x1="2" y1="304.5" x2="123" y2="304.5"/><line x1="2" y1="440.5" x2="123" y2="440.5"/><line x1="2" y1="464.5" x2="123" y2="464.5"/></g>
<g font-family="'DejaVu Sans Mono','Liberation Mono',monospace" font-weight="bold" font-size="14.95" fill="#000"><text x="303.00" y="20">Station</text><text x="393.00" y="20">YYYY</text><text x="438.00" y="20">DAY</text><text x="492.00" y="20">DDD</text><text x="528.00" y="20">HHMMSS</text><text x="591.00" y="20">P1</text><text x="627.00" y="20">FFS</text><text x="663.00" y="20">S</text><text x="681.00" y="20">AXN</text><text x="717.00" y="20">PPS</text><text x="753.00" y="20">IGA</text><text x="789.00" y="20">PS</text><text x="303.00" y="34">Pruhonice</text><text x="393.00" y="34">2025</text><text x="438.00" y="34">Oct29</text><text x="492.00" y="34">302</text><text x="528.00" y="34">062500</text><text x="591.00" y="34">RSF</text><text x="663.00" y="34">1</text><text x="681.00" y="34">713</text><text x="717.00" y="34">100</text><text x="753.00" y="34">03+</text><text x="789.00" y="34">21</text></g>
<g font-family="'Liberation Mono','DejaVu Sans Mono',monospace" font-size="13.33" fill="#000"><text x="2.20" y="569.8">D</text><text x="50.20" y="569.8">100</text><text x="90.20" y="569.8">200</text><text x="130.20" y="569.8">400</text><text x="170.20" y="569.8">600</text><text x="210.20" y="569.8">800</text><text x="242.20" y="569.8">1000</text><text x="282.20" y="569.8">1500</text><text x="322.20" y="569.8">3000</text><text x="362.20" y="569.8">[km]</text><text x="2.20" y="582.8">MUF</text><text x="50.20" y="582.8">7.6</text><text x="90.20" y="582.8">7.7</text><text x="130.20" y="582.8">8.0</text><text x="170.20" y="582.8">8.6</text><text x="210.20" y="582.8">9.4</text><text x="242.20" y="582.8">10.6</text><text x="282.20" y="582.8">14.1</text><text x="322.20" y="582.8">23.0</text><text x="362.20" y="582.8">[MHz]</text></g>
<g font-family="'DejaVu Sans Mono','Liberation Mono',monospace" font-size="11.63" fill="#000"><text x="2.20" y="597.3">db</text><text x="23.20" y="597.3">pq052</text><text x="65.20" y="597.3">20251029</text><text x="128.20" y="597.3">062500.rsf</text><text x="205.20" y="597.3">/</text><text x="219.20" y="597.3">214fx512h</text><text x="289.20" y="597.3">5</text><text x="303.20" y="597.3">kHz</text><text x="331.20" y="597.3">2.5</text><text x="359.20" y="597.3">km</text><text x="380.20" y="597.3">/</text><text x="394.20" y="597.3">DPS-4D</text><text x="443.20" y="597.3">PQ052</text><text x="485.20" y="597.3">50</text><text x="506.20" y="597.3">/</text><text x="520.20" y="597.3">50.0</text><text x="555.20" y="597.3">N</text><text x="569.20" y="597.3">14.6</text><text x="604.20" y="597.3">E</text></g>
<text x="704" y="583" font-family="'DejaVu Serif','Liberation Serif',serif" font-weight="bold" font-size="11.9" fill="#8a8a8a" textLength="194" lengthAdjust="spacingAndGlyphs">DIDBasePortal_Servlet 0.1</text>
<g fill="none" stroke="#3a9bc8" stroke-width="1.9" stroke-linecap="round"><path d="M3.9,21.2 A20.9,20.9 0 0 1 21,6.2"/><path d="M10.9,21.2 A14.5,14.5 0 0 1 22,12.2"/><path d="M17.8,21.3 A8.3,8.3 0 0 1 23,18.4"/></g>
<text x="26.3" y="21.3" font-family="'DejaVu Sans Condensed','DejaVu Sans',sans-serif" font-stretch="condensed" font-size="20" fill="#111" stroke="#111" stroke-width="0.3" textLength="170.5" lengthAdjust="spacingAndGlyphs">Lowell GIRO Data Center</text>
</svg>
</body></html>
